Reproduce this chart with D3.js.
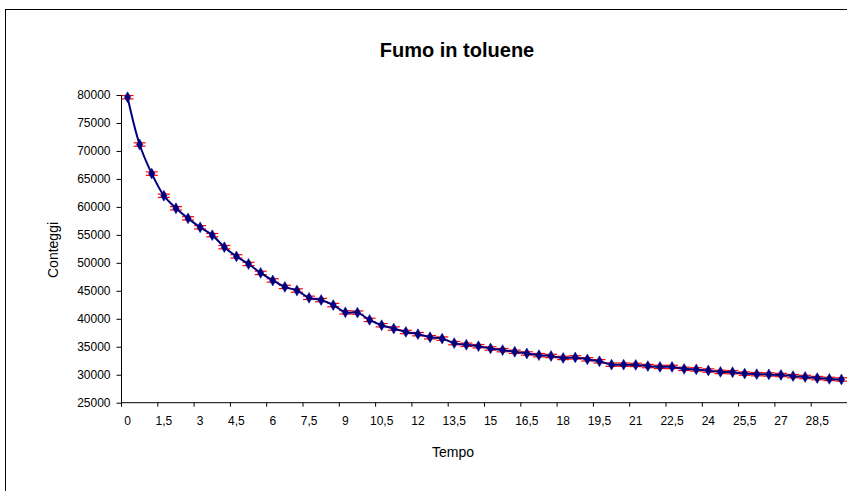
<!DOCTYPE html>
<html>
<head>
<meta charset="utf-8">
<script src="https://cdn.jsdelivr.net/npm/d3@7"></script>
<style>
  html, body { margin: 0; padding: 0; background: #fff; overflow: hidden; }
  svg { display: block; font-family: "Liberation Sans", Arial, sans-serif; }
</style>
</head>
<body>
<svg id="chart" width="847" height="491"></svg>
<script>
// ---- data ----
const title = "Fumo in toluene";
const xTitle = "Tempo";
const yTitle = "Conteggi";
const times = [0, 0.5, 1, 1.5, 2, 2.5, 3, 3.5, 4, 4.5, 5, 5.5, 6, 6.5, 7, 7.5, 8, 8.5, 9, 9.5,
  10, 10.5, 11, 11.5, 12, 12.5, 13, 13.5, 14, 14.5, 15, 15.5, 16, 16.5, 17, 17.5, 18, 18.5, 19, 19.5,
  20, 20.5, 21, 21.5, 22, 22.5, 23, 23.5, 24, 24.5, 25, 25.5, 26, 26.5, 27, 27.5, 28, 28.5, 29, 29.5];
const counts = [79600, 71150, 65950, 62000, 59750, 57950, 56350, 54950, 52800, 51150,
  49800, 48200, 46850, 45700, 45050, 43750, 43350, 42450, 41150, 41100,
  39800, 38850, 38250, 37650, 37250, 36700, 36450, 35650, 35350, 35100,
  34700, 34400, 34100, 33800, 33500, 33350, 33000, 33100, 32750, 32400,
  31800, 31800, 31750, 31550, 31400, 31400, 31050, 30950, 30750, 30500,
  30450, 30200, 30100, 30050, 29950, 29750, 29600, 29400, 29250, 29150];
const errorHalf = 300;
const xTickLabels = [0, 1.5, 3, 4.5, 6, 7.5, 9, 10.5, 12, 13.5, 15, 16.5, 18, 19.5, 21, 22.5, 24, 25.5, 27, 28.5];
const yTicks = [25000, 30000, 35000, 40000, 45000, 50000, 55000, 60000, 65000, 70000, 75000, 80000];

// ---- layout ----
const svg = d3.select("#chart");
const plot = { left: 121.5, right: 847.5, top: 95, bottom: 402.7 };

// chart border
svg.append("rect")
  .attr("x", 5.5).attr("y", 9.5)
  .attr("width", 900).attr("height", 600)
  .attr("fill", "none").attr("stroke", "#000").attr("stroke-width", 1);

const x = d3.scaleBand().domain(times).range([plot.left, plot.right]).padding(0);
const y = d3.scaleLinear().domain([25000, 80000]).range([plot.bottom, plot.top]);
const cx = t => x(t) + x.bandwidth() / 2;
const fmt = v => String(v).replace(".", ",");

// y axis
const yAxis = svg.append("g")
  .attr("transform", `translate(${plot.left},0)`)
  .call(d3.axisLeft(y).tickValues(yTicks).tickSize(5).tickPadding(6).tickFormat(d => d));
yAxis.select(".domain").attr("stroke", "#000").attr("d", `M-0,${plot.top}V${plot.bottom}`);
yAxis.selectAll("text").attr("font-size", 12).attr("fill", "#000")
  .attr("font-family", "Liberation Sans, Arial, sans-serif");

// x axis
const xAxis = svg.append("g")
  .attr("transform", `translate(0,${plot.bottom})`)
  .call(d3.axisBottom(x).tickValues(xTickLabels).tickSize(4).tickPadding(10).tickFormat(fmt));
xAxis.select(".domain").attr("stroke", "#000").attr("d", `M${plot.left},0H${plot.right}`);
xAxis.selectAll(".tick line").attr("x1", -x.bandwidth() / 2).attr("x2", -x.bandwidth() / 2);
xAxis.selectAll("text").attr("font-size", 12).attr("fill", "#000")
  .attr("font-family", "Liberation Sans, Arial, sans-serif");

// titles
svg.append("text").attr("x", 457).attr("y", 57).attr("text-anchor", "middle")
  .attr("font-size", 20).attr("font-weight", "bold").text(title);
svg.append("text").attr("x", 453).attr("y", 457).attr("text-anchor", "middle")
  .attr("font-size", 14).text(xTitle);
svg.append("text").attr("transform", "translate(58,250) rotate(-90)").attr("text-anchor", "middle")
  .attr("font-size", 14).text(yTitle);

const pts = times.map((t, i) => ({ t, v: counts[i] }));

// error bars
const eb = svg.append("g").attr("stroke", "#ff0000").attr("stroke-width", 1.2);
pts.forEach(p => {
  const xc = cx(p.t), y1 = y(p.v + errorHalf), y2 = y(p.v - errorHalf);
  eb.append("line").attr("x1", xc).attr("x2", xc).attr("y1", y1).attr("y2", y2);
  eb.append("line").attr("x1", xc - 6).attr("x2", xc + 6).attr("y1", y1).attr("y2", y1);
  eb.append("line").attr("x1", xc - 6).attr("x2", xc + 6).attr("y1", y2).attr("y2", y2);
});

// line
svg.append("path").datum(pts)
  .attr("fill", "none").attr("stroke", "#000080").attr("stroke-width", 2)
  .attr("d", d3.line().x(p => cx(p.t)).y(p => y(p.v)).curve(d3.curveCatmullRom.alpha(0.5)));

// markers
svg.append("g").selectAll("path").data(pts).join("path")
  .attr("transform", p => `translate(${cx(p.t)},${y(p.v)})`)
  .attr("d", d3.symbol().type(d3.symbolDiamond).size(34))
  .attr("fill", "#000080").attr("stroke", "#000080").attr("stroke-width", 0.5);
</script>
</body>
</html>
